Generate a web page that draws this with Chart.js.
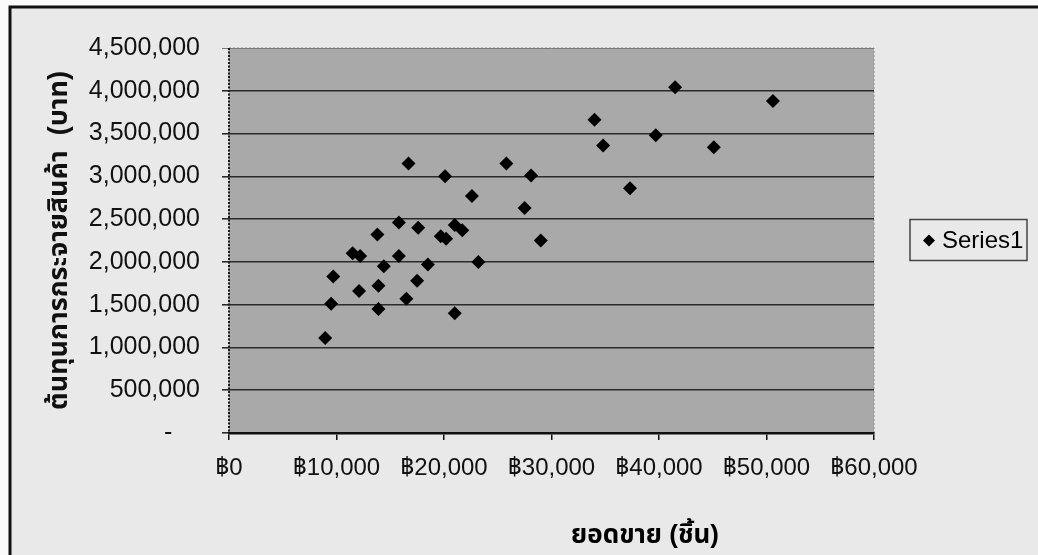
<!DOCTYPE html>
<html lang="th">
<head>
<meta charset="UTF-8">
<title>ต้นทุนการกระจายสินค้า</title>
<style>
  html, body { margin: 0; padding: 0; background: #fafafa; }
</style>
</head>
<body>
<canvas id="scatterChart" width="1038" height="555"></canvas>
<script src="https://cdn.jsdelivr.net/npm/chart.js"></script>
<script>
// values
const sales = [8950, 9500, 9700, 11500, 12200, 12100, 13800, 13900, 13900, 14400, 15800, 15800,
  16500, 16700, 17500, 17600, 18500, 19700, 20200, 20100, 21000, 21000, 21700, 22600, 23200,
  25800, 27500, 28100, 29000, 34000, 34800, 37300, 39700, 41500, 45100, 50600];
const costs = [1110000, 1510000, 1830000, 2100000, 2070000, 1660000, 2320000, 1720000, 1450000,
  1950000, 2460000, 2070000, 1570000, 3150000, 1780000, 2400000, 1970000, 2300000, 2270000,
  3000000, 1400000, 2430000, 2370000, 2770000, 2000000, 3150000, 2630000, 3010000, 2250000,
  3660000, 3360000, 2860000, 3480000, 4040000, 3340000, 3880000];
const xTicks = [0, 10000, 20000, 30000, 40000, 50000, 60000];
const yTicks = [0, 500000, 1000000, 1500000, 2000000, 2500000, 3000000, 3500000, 4000000, 4500000];
const seriesName = 'Series1';
const xTitle = 'ยอดขาย (ชิ้น)';
const yTitle = 'ต้นทุนการกระจายสินค้า  (บาท)';

const FONT = "'Liberation Sans', Arial, 'Noto Sans Thai', sans-serif";

const frame = {
  id: 'frame',
  beforeDraw(chart) {
    const c = chart.ctx, a = chart.chartArea;
    c.save();
    c.fillStyle = '#fafafa';
    c.fillRect(0, 0, chart.width, chart.height);
    c.fillStyle = '#e9e9e9';
    c.fillRect(10, 7, chart.width - 10, chart.height - 7);
    c.strokeStyle = '#111';
    c.lineWidth = 3;
    c.beginPath();
    c.moveTo(10, chart.height);
    c.lineTo(10, 7);
    c.lineTo(chart.width, 7);
    c.stroke();
    // plot area
    c.fillStyle = '#a9a9a9';
    c.fillRect(a.left, a.top, a.right - a.left, a.bottom - a.top);
    c.strokeStyle = '#8a8a8a';
    c.lineWidth = 1;
    c.setLineDash([2, 2]);
    c.strokeRect(a.left, a.top, a.right - a.left, a.bottom - a.top);
    c.restore();
  },
  afterDraw(chart) {
    const c = chart.ctx, a = chart.chartArea;
    c.save();
    // dotted left edge of the plot
    c.strokeStyle = '#1a1a1a';
    c.lineWidth = 2;
    c.setLineDash([2, 1.5]);
    c.beginPath();
    c.moveTo(a.left, a.top);
    c.lineTo(a.left, a.bottom);
    c.stroke();
    c.setLineDash([]);
    // legend box
    const lx = a.right + 36, ly = (a.top + a.bottom) / 2 - 21;
    c.strokeStyle = '#444';
    c.lineWidth = 1.5;
    c.strokeRect(lx, ly, 117, 41);
    c.fillStyle = '#000';
    c.beginPath();
    c.moveTo(lx + 19, ly + 15);
    c.lineTo(lx + 25, ly + 21);
    c.lineTo(lx + 19, ly + 27);
    c.lineTo(lx + 13, ly + 21);
    c.closePath();
    c.fill();
    c.font = '24px ' + FONT;
    c.textBaseline = 'middle';
    c.textAlign = 'left';
    c.fillText(seriesName, lx + 32, ly + 22);
    // x axis title
    c.font = 'bold 26px ' + FONT;
    c.textAlign = 'center';
    c.fillText(xTitle, 645, 536);
    c.restore();
  }
};

const ctx = document.getElementById('scatterChart').getContext('2d');
new Chart(ctx, {
  type: 'scatter',
  data: {
    datasets: [{
      label: seriesName,
      data: sales.map((s, i) => ({ x: s, y: costs[i] })),
      pointStyle: 'rectRot',
      pointRadius: 7,
      pointHoverRadius: 7,
      backgroundColor: '#000',
      borderColor: '#000',
      borderWidth: 0
    }]
  },
  options: {
    responsive: false,
    animation: false,
    layout: { padding: { top: 48, right: 164, left: 0, bottom: 0 } },
    plugins: {
      legend: { display: false },
      tooltip: { enabled: false }
    },
    scales: {
      x: {
        type: 'linear',
        min: 0,
        max: 60000,
        afterBuildTicks: s => { s.ticks = xTicks.map(v => ({ value: v })); },
        afterFit: s => { s.height = 122; },
        ticks: {
          color: '#111',
          font: { family: FONT, size: 24 },
          padding: 14,
          maxRotation: 0,
          callback: v => '฿' + v.toLocaleString('en-US')
        },
        grid: { drawOnChartArea: false, drawTicks: true, tickLength: 7, color: '#111', lineWidth: 1.5 },
        border: { display: true, color: '#111', width: 2.5 }
      },
      y: {
        min: 0,
        max: 4500000,
        afterBuildTicks: s => { s.ticks = yTicks.map(v => ({ value: v })); },
        afterFit: s => { s.width = 229; },
        ticks: {
          color: '#111',
          font: { family: FONT, size: 25 },
          padding: 22,
          callback: v => v === 0 ? '-    ' : v.toLocaleString('en-US')
        },
        grid: {
          drawTicks: true,
          tickLength: 7,
          color: c => c.tick && c.tick.value === 4500000 ? '#7a7a7a' : '#2a2a2a',
          lineWidth: c => c.tick && c.tick.value === 4500000 ? 1 : 1.6
        },
        border: { display: false },
        title: {
          display: true,
          text: yTitle,
          color: '#111',
          font: { family: FONT, size: 27, weight: 'bold' },
          padding: { top: 43, bottom: 0 }
        }
      }
    }
  },
  plugins: [frame]
});
</script>
</body>
</html>
